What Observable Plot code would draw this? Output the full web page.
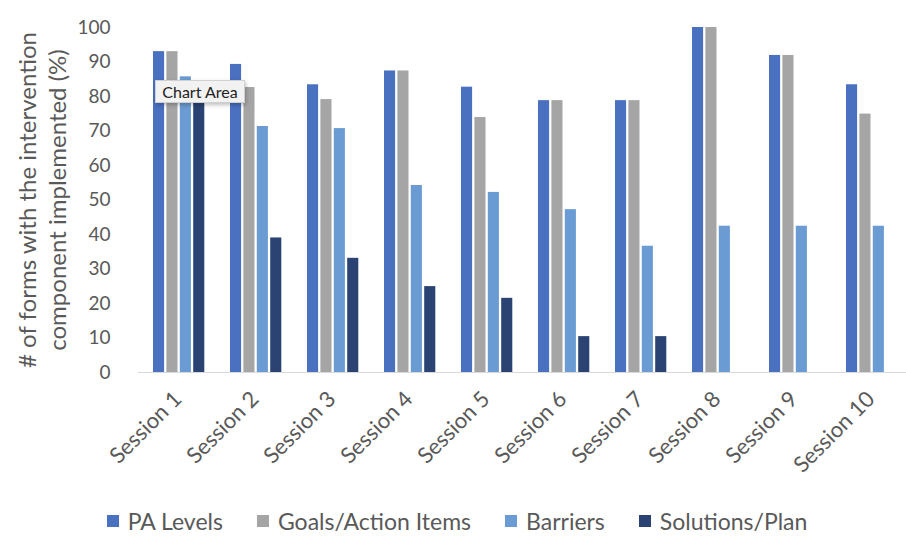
<!DOCTYPE html>
<html>
<head>
<meta charset="utf-8">
<script src="https://cdn.jsdelivr.net/npm/d3@7"></script>
<script src="https://cdn.jsdelivr.net/npm/@observablehq/plot@0.6"></script>
<style>
  html, body { margin: 0; padding: 0; background: #fff; }
  body { width: 906px; height: 536px; overflow: hidden; font-family: Lato, "Open Sans", sans-serif; color: #595959; }
  #wrap { position: relative; width: 906px; }
  .tip { position: absolute; left: 155px; top: 80px; width: 90px; height: 23px; background: #f2f2f2; border: 1px solid #d0d0d0;
         box-shadow: 1px 2px 4px rgba(0,0,0,0.25); font-size: 16px; color: #222; line-height: 21px; text-align: center; box-sizing: border-box; }
  .legend { display: flex; justify-content: center; align-items: center; gap: 34px; font-size: 23px; color: #595959; height: 34px; margin-top: 4px; padding-left: 8px; }
  .legend span.item { display: inline-flex; align-items: center; gap: 9px; }
  .legend span.sw { display: inline-block; width: 12px; height: 12px; }
</style>
</head>
<body>
<div id="wrap"></div>
<script>
const sessions = ["Session 1","Session 2","Session 3","Session 4","Session 5","Session 6","Session 7","Session 8","Session 9","Session 10"];
const series = ["PA Levels","Goals/Action Items","Barriers","Solutions/Plan"];
const colors = ["#4a70c0","#a5a5a5","#6a9bd2","#2b4373"];
const paLevels  = [93.0, 89.3, 83.4, 87.4, 82.7, 78.8, 78.8, 100, 91.9, 83.4];
const goals     = [93.0, 82.6, 79.1, 87.4, 73.9, 78.8, 78.8, 100, 91.9, 74.9];
const barriers  = [85.7, 71.3, 70.7, 54.2, 52.2, 47.2, 36.6, 42.4, 42.4, 42.4];
const solutions = [81.0, 39.0, 33.1, 24.9, 21.5, 10.4, 10.4, null, null, null];
const yTicks = [0,10,20,30,40,50,60,70,80,90,100];
const yTitle = ["# of forms with the intervention", "component implemented (%)"];

const valuesBySeries = [paLevels, goals, barriers, solutions];
const data = series.map((s, i) => sessions.map((sess, j) => ({session: sess, series: s, value: valuesBySeries[i][j]})).filter(d => d.value != null));

const step = 13.4, bandW = 51.5, barW = 11.6;
const barMarks = data.map((rows, i) => Plot.barY(rows, {
  x: "session", y: "value", fill: colors[i],
  insetLeft: i * step, insetRight: bandW - i * step - barW
}));

const chart = Plot.plot({
  width: 906,
  height: 500,
  marginLeft: 145,
  marginRight: 0,
  marginTop: 27,
  marginBottom: 128,
  style: {fontFamily: "Lato, 'Open Sans', sans-serif", color: "#595959", background: "#fff"},
  x: {domain: sessions, paddingInner: 0.337, paddingOuter: 0.066, label: null},
  y: {domain: [0, 100], label: null},
  marks: [
    Plot.ruleY([0], {stroke: "#d9d9d9", strokeWidth: 1.2, insetLeft: -7}),
    ...barMarks,
    Plot.axisY({ticks: yTicks, tickSize: 0, tickPadding: 35, fontSize: 19, fill: "#595959", label: null}),
    Plot.axisX({tickSize: 0, tickRotate: -45, tickPadding: 23, fontSize: 22, fill: "#595959", dx: -1, label: null}),
    Plot.text([yTitle.join("\n")], {frameAnchor: "left", rotate: -90, dx: -104, fontSize: 24, lineHeight: 1.25,
      fill: "#595959", textAnchor: "middle", lineAnchor: "middle"})
  ]
});

const wrap = document.getElementById("wrap");
wrap.appendChild(chart);
const legend = document.createElement("div");
legend.className = "legend";
series.forEach((s, i) => {
  const it = document.createElement("span"); it.className = "item";
  const sw = document.createElement("span"); sw.className = "sw"; sw.style.background = colors[i];
  const tx = document.createElement("span"); tx.textContent = s;
  it.appendChild(sw); it.appendChild(tx); legend.appendChild(it);
});
wrap.appendChild(legend);
const tip = document.createElement("div"); tip.className = "tip"; tip.textContent = "Chart Area";
wrap.appendChild(tip);
</script>
</body>
</html>
